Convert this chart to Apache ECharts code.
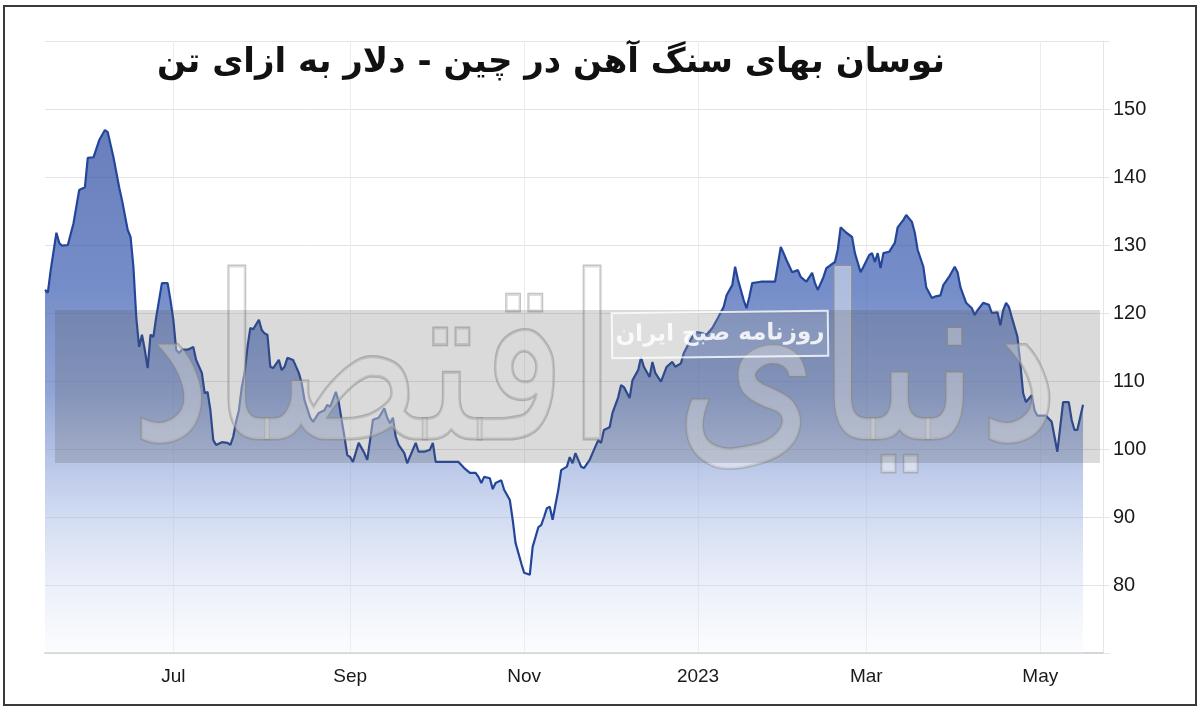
<!DOCTYPE html>
<html>
<head>
<meta charset="utf-8">
<script src="https://cdn.jsdelivr.net/npm/echarts@6/dist/echarts.min.js"></script>
<style>
html,body{margin:0;padding:0;background:#fff;}
#chart{width:1200px;height:708px;}
</style>
</head>
<body>
<div id="chart"></div>
<script>
// ---- data ----
const titleText = 'نوسان بهای سنگ آهن در چین - دلار به ازای تن';
const watermarkLogo = 'دنیای اقتصاد';
const watermarkPaper = 'روزنامه صبح ایران';

const xTickDates = ['2022-07-01','2022-09-01','2022-11-01','2023-01-01','2023-03-01','2023-05-01'];
const xTickLabels = ['Jul','Sep','Nov','2023','Mar','May'];
const yTickValues = [80,90,100,110,120,130,140,150];

const dates = [
'2022-05-17','2022-05-18','2022-05-19','2022-05-21','2022-05-22','2022-05-23','2022-05-25','2022-05-27','2022-05-29','2022-05-31',
'2022-06-01','2022-06-03','2022-06-05','2022-06-07','2022-06-08','2022-06-10','2022-06-12','2022-06-13','2022-06-15','2022-06-16',
'2022-06-17','2022-06-18','2022-06-19','2022-06-20','2022-06-21','2022-06-22','2022-06-23','2022-06-24','2022-06-25','2022-06-27',
'2022-06-29','2022-06-30','2022-07-01','2022-07-02','2022-07-03','2022-07-04','2022-07-06','2022-07-08','2022-07-09','2022-07-11',
'2022-07-12','2022-07-13','2022-07-14','2022-07-15','2022-07-16','2022-07-18','2022-07-20','2022-07-21','2022-07-22','2022-07-23',
'2022-07-24','2022-07-25','2022-07-26','2022-07-27','2022-07-28','2022-07-29','2022-07-31','2022-08-01','2022-08-02','2022-08-03',
'2022-08-04','2022-08-05','2022-08-07','2022-08-08','2022-08-09','2022-08-10','2022-08-12','2022-08-14','2022-08-15','2022-08-16',
'2022-08-18','2022-08-19','2022-08-21','2022-08-23','2022-08-24','2022-08-25','2022-08-27','2022-08-28','2022-08-29','2022-08-30',
'2022-08-31','2022-09-01','2022-09-02','2022-09-04','2022-09-06','2022-09-07','2022-09-08','2022-09-09','2022-09-11','2022-09-13',
'2022-09-14','2022-09-15','2022-09-16','2022-09-17','2022-09-18','2022-09-20','2022-09-21','2022-09-23','2022-09-24','2022-09-25',
'2022-09-27','2022-09-29','2022-09-30','2022-10-01','2022-10-02','2022-10-09','2022-10-11','2022-10-13','2022-10-15','2022-10-16',
'2022-10-17','2022-10-18','2022-10-20','2022-10-21','2022-10-22','2022-10-24','2022-10-25','2022-10-27','2022-10-28','2022-10-29',
'2022-10-31','2022-11-01','2022-11-03','2022-11-04','2022-11-06','2022-11-07','2022-11-08','2022-11-09','2022-11-10','2022-11-11',
'2022-11-13','2022-11-14','2022-11-16','2022-11-17','2022-11-18','2022-11-19','2022-11-21','2022-11-22','2022-11-24','2022-11-25',
'2022-11-27','2022-11-28','2022-11-29','2022-12-01','2022-12-02','2022-12-04','2022-12-05','2022-12-06','2022-12-08','2022-12-09',
'2022-12-11','2022-12-12','2022-12-13','2022-12-15','2022-12-16','2022-12-17','2022-12-19','2022-12-21','2022-12-23','2022-12-24',
'2022-12-26','2022-12-27','2022-12-30','2022-12-31','2023-01-02','2023-01-04','2023-01-06','2023-01-08','2023-01-10','2023-01-11',
'2023-01-13','2023-01-14','2023-01-15','2023-01-17','2023-01-18','2023-01-19','2023-01-20','2023-01-23','2023-01-28','2023-01-30',
'2023-01-31','2023-02-01','2023-02-03','2023-02-05','2023-02-06','2023-02-08','2023-02-10','2023-02-11','2023-02-12','2023-02-14',
'2023-02-15','2023-02-18','2023-02-19','2023-02-20','2023-02-22','2023-02-24','2023-02-25','2023-02-27','2023-02-28','2023-03-02',
'2023-03-03','2023-03-04','2023-03-05','2023-03-06','2023-03-07','2023-03-09','2023-03-11','2023-03-12','2023-03-14','2023-03-15',
'2023-03-17','2023-03-18','2023-03-19','2023-03-21','2023-03-22','2023-03-24','2023-03-25','2023-03-27','2023-03-28','2023-03-30',
'2023-04-01','2023-04-02','2023-04-03','2023-04-05','2023-04-07','2023-04-08','2023-04-09','2023-04-11','2023-04-13','2023-04-14',
'2023-04-16','2023-04-17','2023-04-18','2023-04-19','2023-04-20','2023-04-21','2023-04-23','2023-04-24','2023-04-25','2023-04-26',
'2023-04-28','2023-04-29','2023-04-30','2023-05-03','2023-05-05','2023-05-06','2023-05-07','2023-05-08','2023-05-09','2023-05-11',
'2023-05-12','2023-05-13','2023-05-14','2023-05-16'
];
const prices = [
123.4,123.0,126.3,131.8,130.3,129.9,130.0,133.2,138.1,138.5,
142.8,142.9,145.4,146.9,146.6,142.9,138.5,136.6,132.2,131.2,
126.8,119.4,115.0,116.8,114.6,111.9,116.8,116.5,119.4,124.4,
124.4,121.9,119.0,114.6,114.1,114.6,114.6,115.0,113.1,111.2,
108.2,108.4,105.7,101.3,100.6,101.0,100.9,100.6,101.8,104.0,
105.7,109.1,111.2,115.0,117.8,117.6,119.0,117.5,117.0,116.8,
112.1,111.9,113.1,111.6,112.1,113.4,113.1,111.2,109.7,107.2,
104.6,104.0,105.3,105.7,106.5,106.2,108.4,106.9,104.3,101.8,
99.1,98.8,98.1,100.9,99.4,98.4,101.3,104.3,104.6,106.0,
104.6,103.8,104.6,101.8,100.6,99.4,97.9,99.9,100.9,99.6,
99.6,99.9,100.9,98.1,98.1,98.1,97.2,96.5,96.5,95.9,
95.0,95.9,95.7,94.1,95.0,95.4,94.0,92.5,89.6,86.2,
83.2,81.8,81.5,85.6,88.5,88.8,90.0,91.3,91.5,89.6,
94.0,96.9,97.4,98.8,97.9,99.4,97.4,97.2,98.4,99.4,
101.3,100.9,102.8,103.2,105.3,107.6,109.4,109.1,107.5,110.1,
111.6,113.5,112.1,110.6,112.8,111.2,109.9,112.1,112.8,112.1,
112.6,114.1,116.5,117.2,117.1,116.8,117.8,119.3,120.9,122.6,
124.1,126.8,124.9,121.9,120.7,122.4,124.4,124.6,124.6,129.7,
128.8,127.8,126.0,126.3,125.3,124.6,125.9,124.4,123.4,125.3,
126.6,127.5,129.3,132.6,131.8,131.2,128.8,126.0,126.8,128.5,
128.8,127.5,128.8,126.6,128.8,129.0,130.3,132.6,133.7,134.4,
133.4,131.8,129.3,126.8,123.8,122.2,122.4,122.6,124.1,125.3,
126.8,126.0,123.8,121.5,120.7,119.7,120.4,121.5,121.2,120.0,
120.1,118.2,120.4,121.5,120.9,119.4,116.5,112.6,108.2,106.9,
107.9,105.7,104.9,104.9,104.0,101.8,99.6,103.2,106.9,106.9,
104.3,102.8,102.8,106.5
];

const xMin = '2022-05-17';
const xMax = '2023-05-23';

// ---- chart ----
const toTime = d => Date.UTC(+d.slice(0, 4), +d.slice(5, 7) - 1, +d.slice(8, 10));
const tickTimes = xTickDates.map(toTime);
const seriesData = dates.map((d, i) => [toTime(d), prices[i]]);

const chart = echarts.init(document.getElementById('chart'), null, {renderer: 'canvas'});
chart.setOption({
  animation: false,
  backgroundColor: '#ffffff',
  grid: {left: 45, right: 97, top: 41, bottom: 55, containLabel: false},
  xAxis: {
    type: 'value',
    min: toTime(xMin),
    max: toTime(xMax),
    axisLine: {show: true, lineStyle: {color: '#d6d6d6', width: 2}},
    axisTick: {show: false, customValues: tickTimes},
    splitLine: {show: true, lineStyle: {color: '#ececec', width: 1}},
    axisLabel: {
      customValues: tickTimes,
      margin: 14,
      color: '#1a1a1a',
      fontSize: 19,
      fontFamily: 'Liberation Sans, Arial, sans-serif',
      formatter: function (val) {
        const idx = tickTimes.indexOf(+val);
        return idx >= 0 ? xTickLabels[idx] : '';
      }
    }
  },
  yAxis: {
    type: 'value',
    position: 'right',
    min: 70,
    max: 160,
    interval: 10,
    axisLine: {show: true, lineStyle: {color: '#e6e6e6'}},
    axisTick: {show: true, length: 7, lineStyle: {color: '#e6e6e6'}},
    splitLine: {show: true, lineStyle: {color: '#e3e3e3', width: 1}},
    axisLabel: {
      margin: 10,
      color: '#1a1a1a',
      fontSize: 20,
      fontFamily: 'Liberation Sans, Arial, sans-serif',
      formatter: function (v) { return yTickValues.indexOf(v) >= 0 ? String(v) : ''; }
    }
  },
  series: [{
    type: 'line',
    data: seriesData,
    showSymbol: false,
    symbol: 'none',
    lineStyle: {color: '#24469a', width: 2.2},
    areaStyle: {
      origin: 'start',
      color: new echarts.graphic.LinearGradient(0, 0, 0, 1, [
        {offset: 0, color: 'rgba(40,72,160,1)'},
        {offset: 0.3, color: 'rgba(58,92,176,1)'},
        {offset: 0.5, color: 'rgba(88,118,192,0.95)'},
        {offset: 0.72, color: 'rgba(160,180,226,0.75)'},
        {offset: 1, color: 'rgba(240,244,252,0.4)'}
      ])
    },
    z: 2
  }],
  graphic: [
    {
      type: 'text', z: 50,
      x: 595, y: 380, scaleY: 1.25,
      style: {
        text: watermarkLogo,
        x: 0, y: 0, align: 'center', verticalAlign: 'middle',
        font: '182px "DejaVu Sans", sans-serif',
        fill: 'rgba(255,255,255,0.42)',
        stroke: 'rgba(150,150,150,0.55)',
        lineWidth: 2.5
      }
    },
    {
      type: 'rect', z: 60,
      shape: {x: 55, y: 310, width: 1045, height: 153},
      style: {fill: 'rgba(85,85,85,0.22)'}
    },
    {
      type: 'rect', z: 70,
      x: 720, y: 334, rotation: 0.012,
      shape: {x: -108, y: -22, width: 216, height: 45},
      style: {fill: 'rgba(255,255,255,0.12)', stroke: 'rgba(255,255,255,0.8)', lineWidth: 2}
    },
    {
      type: 'text', z: 71,
      x: 720, y: 334, rotation: 0.012,
      style: {text: watermarkPaper, x: 0, y: 0, align: 'center', verticalAlign: 'middle',
        font: 'bold 23px "DejaVu Sans", sans-serif', fill: 'rgba(255,255,255,0.85)'}
    },
    {
      type: 'text', z: 100,
      x: 551, y: 63,
      style: {
        text: titleText,
        x: 0, y: 0, align: 'center', verticalAlign: 'middle',
        font: 'bold 34px "DejaVu Sans", sans-serif',
        fill: '#111111'
      }
    },
    {
      type: 'rect', z: 100,
      shape: {x: 4, y: 6, width: 1192, height: 699},
      style: {fill: 'none', stroke: '#3a3a3a', lineWidth: 2}
    }
  ]
});
</script>
</body>
</html>
